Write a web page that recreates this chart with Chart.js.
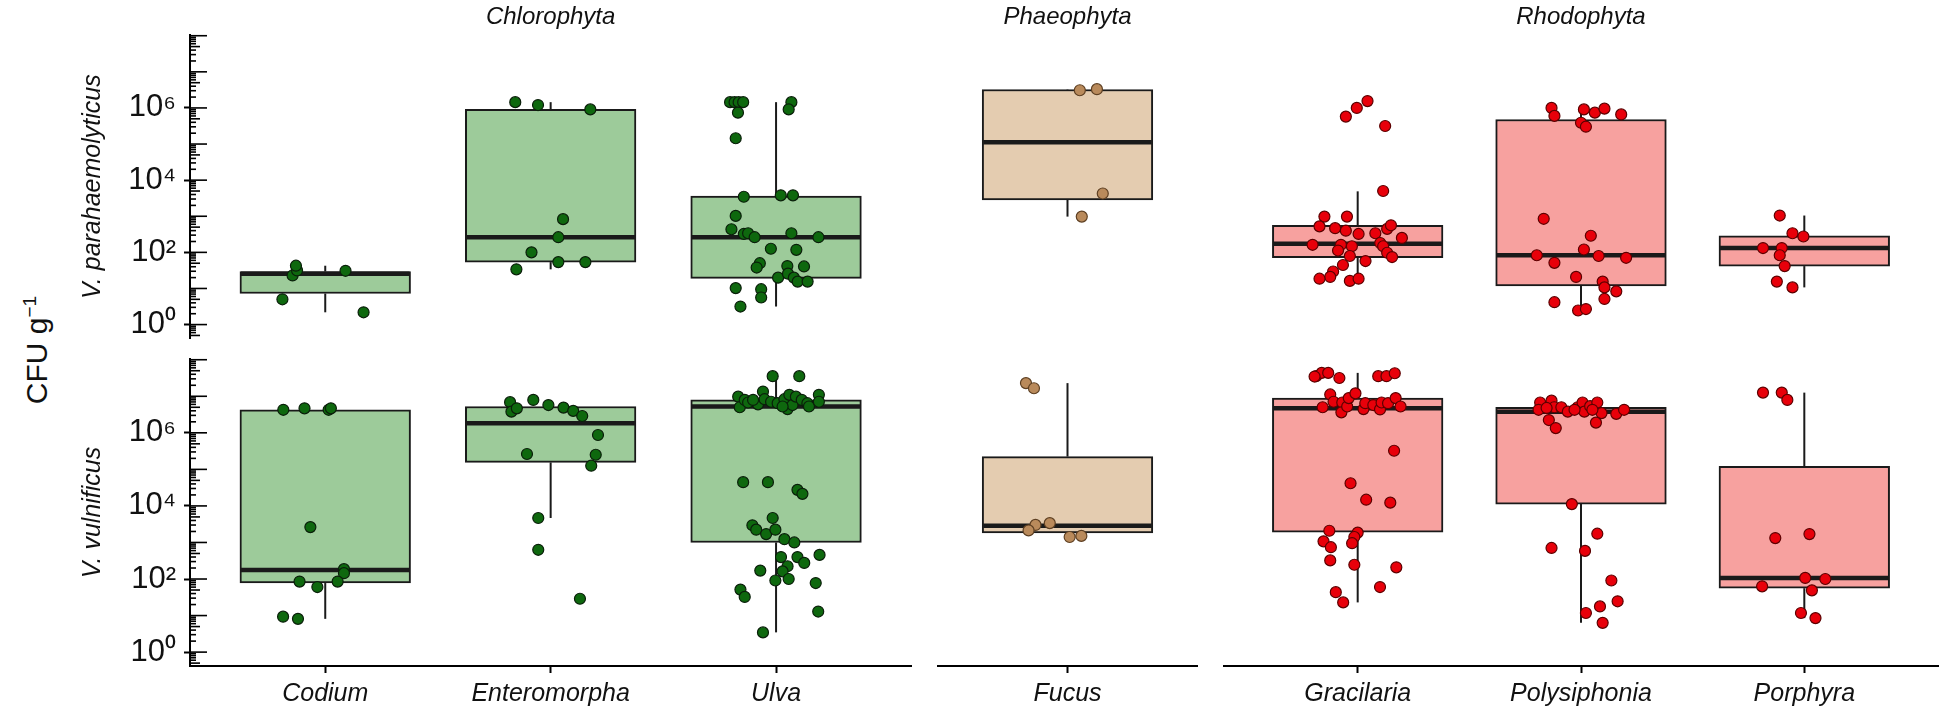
<!DOCTYPE html>
<html>
<head>
<meta charset="utf-8">
<title>Vibrio counts on seaweeds</title>
<script src="https://cdn.jsdelivr.net/npm/chart.js@4.4.1/dist/chart.umd.min.js"></script>
<style>
  html, body { margin: 0; padding: 0; background: #fff; }
  #page { position: relative; width: 1949px; height: 721px; overflow: hidden; }
  #page canvas { position: absolute; }
  #yTitle {
    position: absolute; left: 36px; top: 350px;
    transform: translate(-50%, -50%) rotate(-90deg);
    font: 30px "Liberation Sans", Arial, sans-serif; color: #111; white-space: nowrap;
  }
  #yTitle sup { font-size: 19px; }
</style>
</head>
<body>
<div id="page"><div id="yTitle">CFU g<sup>−1</sup></div></div>
<script>
// values are log10 CFU g-1
const species = ["V. parahaemolyticus", "V. vulnificus"];
const divisions = ["Chlorophyta", "Phaeophyta", "Rhodophyta"];
const genera = ["Codium", "Enteromorpha", "Ulva", "Fucus", "Gracilaria", "Polysiphonia", "Porphyra"];
const generaDivision = [0, 0, 0, 1, 2, 2, 2];

const yTickValues = [1, 1e2, 1e4, 1e6];
const yTickLabels = ["10⁰", "10²", "10⁴", "10⁶"];
const yRangeLog10 = [-0.38, 8.02];

// box statistics, one value per genus
const vpLow    = [0.34, 1.53, 0.50, 2.99, 1.21, 0.39, 1.03];
const vpQ1     = [0.86, 1.73, 1.28, 3.45, 1.85, 1.07, 1.62];
const vpMedian = [1.41, 2.42, 2.42, 5.05, 2.24, 1.92, 2.12];
const vpQ3     = [1.47, 5.96, 3.56, 6.51, 2.75, 5.68, 2.46];
const vpHigh   = [1.63, 6.16, 6.16, 6.52, 3.69, 6.00, 3.02];

const vvLow    = [0.91, 3.67, 0.54, 3.15, 1.36, 0.80, 0.93];
const vvQ1     = [1.89, 5.19, 3.00, 3.26, 3.28, 4.05, 1.75];
const vvMedian = [2.25, 6.26, 6.72, 3.46, 6.67, 6.58, 2.03];
const vvQ3     = [6.63, 6.72, 6.90, 5.35, 6.95, 6.70, 5.08];
const vvHigh   = [6.67, 6.90, 7.55, 7.36, 7.64, 6.88, 7.10];

// samples: [jitter offset in genus widths, log10 CFU g-1]
const vpCodium = [[-0.19,0.70],[-0.145,1.36],[-0.125,1.50],[-0.13,1.63],[0.09,1.49],[0.17,0.34]];
const vpEnteromorpha = [[-0.157,6.16],[-0.056,6.08],[0.176,5.96],[0.055,2.92],[0.034,2.42],[-0.085,2.00],
  [0.034,1.73],[0.154,1.73],[-0.152,1.53]];
const vpUlva = [[-0.204,6.16],[-0.184,6.16],[-0.166,6.16],[-0.146,6.16],[-0.169,5.87],[0.068,6.16],[0.056,5.96],
  [-0.179,5.16],[-0.143,3.54],[0.021,3.58],[0.075,3.58],[-0.179,3.01],[-0.198,2.64],[-0.143,2.51],[-0.124,2.53],
  [-0.095,2.42],[0.068,2.53],[0.188,2.42],[-0.023,2.10],[0.090,2.07],[-0.072,1.70],[-0.086,1.58],[0.050,1.62],
  [0.124,1.61],[0.009,1.30],[0.053,1.41],[0.079,1.30],[0.096,1.19],[0.140,1.19],[-0.179,1.01],[-0.066,0.98],
  [-0.066,0.75],[-0.158,0.50]];
const vpFucus = [[0.057,6.49],[0.136,6.52],[0.163,3.63],[0.066,2.99]];
const vpGracilaria = [[-0.053,5.76],[-0.004,6.00],[0.044,6.19],[0.123,5.50],[0.114,3.70],[-0.149,2.99],
  [-0.048,2.99],[-0.171,2.72],[-0.101,2.67],[-0.053,2.60],[0.004,2.51],[0.079,2.53],[0.132,2.65],[0.149,2.75],
  [0.198,2.40],[-0.202,2.21],[-0.075,2.21],[-0.026,2.17],[0.101,2.26],[0.114,2.17],[-0.088,2.05],[-0.035,1.90],
  [0.132,1.99],[0.154,1.87],[0.035,1.76],[-0.066,1.65],[-0.110,1.47],[-0.123,1.32],[-0.171,1.27],[-0.035,1.21],
  [0.004,1.27]];
const vpPolysiphonia = [[-0.132,6.00],[-0.119,5.78],[0.013,5.96],[0.062,5.87],[0.105,5.98],[0.180,5.82],
  [0.000,5.59],[0.022,5.48],[-0.167,2.93],[0.044,2.46],[0.013,2.08],[-0.198,1.92],[0.079,1.90],[0.202,1.85],
  [-0.119,1.71],[-0.022,1.32],[0.097,1.19],[0.105,1.03],[0.158,0.92],[0.105,0.71],[-0.119,0.62],[-0.013,0.39],
  [0.022,0.43]];
const vpPorphyra = [[-0.110,3.02],[-0.053,2.53],[-0.004,2.44],[-0.185,2.12],[-0.101,2.12],[-0.110,1.92],
  [-0.088,1.62],[-0.123,1.19],[-0.053,1.03]];

const vvCodium = [[-0.186,6.63],[-0.092,6.67],[0.015,6.63],[0.025,6.67],[-0.066,3.42],[0.083,2.27],[0.083,2.16],
  [-0.114,1.93],[-0.035,1.78],[0.055,1.93],[-0.187,0.97],[-0.121,0.91]];
const vvEnteromorpha = [[-0.18,6.84],[-0.174,6.58],[-0.15,6.67],[-0.077,6.90],[-0.01,6.76],[0.057,6.69],
  [0.10,6.60],[0.14,6.46],[0.21,5.94],[0.20,5.40],[0.18,5.10],[-0.105,5.42],[-0.055,3.67],[-0.055,2.80],[0.13,1.46]];
const vvUlva = [[-0.015,7.55],[0.103,7.55],[-0.168,6.99],[-0.161,6.70],[-0.139,6.90],[-0.124,6.83],[-0.08,6.78],
  [-0.058,7.13],[-0.051,6.92],[-0.022,6.85],[0.007,6.81],[0.037,6.92],[0.051,6.65],[0.059,7.04],[0.073,6.76],
  [0.088,6.99],[0.114,6.90],[0.139,6.81],[0.146,6.72],[0.19,7.04],[0.19,6.85],[-0.102,6.90],[0.029,6.72],
  [-0.146,4.65],[-0.036,4.65],[0.095,4.44],[0.117,4.33],[-0.015,3.67],[-0.105,3.47],[-0.088,3.35],[-0.044,3.23],
  [-0.003,3.35],[0.037,3.09],[0.081,3.00],[0.022,2.60],[0.095,2.60],[0.193,2.66],[0.125,2.44],[0.051,2.35],
  [0.029,2.21],[-0.07,2.23],[-0.003,1.96],[0.056,2.00],[0.176,1.89],[-0.158,1.71],[-0.139,1.51],[0.187,1.11],
  [-0.058,0.54]];
const vvFucus = [[-0.192,7.36],[-0.155,7.22],[-0.148,3.48],[-0.082,3.53],[-0.18,3.33],[0.01,3.15],[0.064,3.18]];
const vvGracilaria = [[-0.186,7.55],[-0.161,7.64],[-0.132,7.64],[-0.193,7.54],[-0.082,7.50],[0.092,7.55],
  [0.129,7.55],[0.166,7.63],[-0.123,7.05],[-0.108,6.85],[-0.157,6.70],[-0.069,6.83],[-0.073,6.56],[-0.047,6.72],
  [-0.04,6.95],[-0.01,7.08],[0.026,6.65],[0.034,6.81],[0.07,6.76],[0.1,6.64],[0.107,6.83],[0.136,6.81],
  [0.17,6.95],[0.192,6.72],[0.163,5.51],[-0.032,4.62],[0.038,4.17],[0.146,4.09],[-0.127,3.32],[0.0,3.27],
  [-0.015,3.15],[-0.153,3.03],[-0.12,2.87],[-0.025,2.98],[-0.123,2.51],[-0.015,2.39],[0.173,2.32],[0.1,1.78],
  [-0.098,1.64],[-0.065,1.36]];
const vvPolysiphonia = [[-0.183,6.83],[-0.132,6.88],[-0.19,6.63],[-0.12,6.70],[-0.088,6.70],[-0.059,6.58],
  [-0.015,6.70],[0.007,6.83],[0.015,6.58],[0.041,6.73],[0.073,6.83],[0.092,6.54],[0.158,6.52],[0.193,6.63],
  [-0.144,6.35],[-0.113,6.13],[0.067,6.28],[-0.154,6.68],[-0.029,6.63],[0.051,6.63],[-0.041,4.05],[0.073,3.24],
  [-0.132,2.85],[0.018,2.77],[0.136,1.96],[0.164,1.39],[0.085,1.25],[0.022,1.07],[0.097,0.80]];
const vvPorphyra = [[-0.185,7.10],[-0.101,7.10],[-0.076,6.90],[-0.13,3.12],[0.023,3.23],[0.004,2.03],
  [0.094,2.00],[-0.189,1.80],[0.034,1.69],[-0.015,1.07],[0.05,0.93]];

const rows = [
  { low: vpLow, q1: vpQ1, median: vpMedian, q3: vpQ3, high: vpHigh,
    points: [vpCodium, vpEnteromorpha, vpUlva, vpFucus, vpGracilaria, vpPolysiphonia, vpPorphyra] },
  { low: vvLow, q1: vvQ1, median: vvMedian, q3: vvQ3, high: vvHigh,
    points: [vvCodium, vvEnteromorpha, vvUlva, vvFucus, vvGracilaria, vvPolysiphonia, vvPorphyra] }
];

const boxFill = ["#9dcb9a", "#e4ccb0", "#f7a19f"];
const pointFill = ["#0e680e", "#b98a5b", "#e8000a"];
const pointEdge = ["#0a1f0a", "#5e4023", "#5c0000"];

// layout, in page pixels
const UNIT = 227.5;            // width of one genus slot
const EXPAND = 0.6;            // empty space either side of a panel, in slots
const yAxisWidth = 190;
const panelLeft = [190, 931, 1217];
const rowTop = [0, 345];
const rowHeight = [345, 376];
const rowPadding = [{ top: 35, bottom: 3, left: 0, right: 0 }, { top: 14, bottom: 0, left: 0, right: 0 }];
const xAxisHeight = 55;

Chart.defaults.font.family = '"Liberation Sans", Arial, sans-serif';
Chart.defaults.color = "#111";

const lg = v => Math.pow(10, v);

// inner log ticks on the left axis, long at decades, medium at 5
const logTicks = {
  id: "logTicks",
  afterDraw(chart) {
    const y = chart.scales.y;
    if (!y.options.display) return;
    const ctx = chart.ctx;
    const x0 = chart.chartArea.left;
    ctx.save();
    ctx.strokeStyle = "#000";
    ctx.lineWidth = 1.6;
    for (let e = -1; e <= 8; e++) {
      for (let m = 1; m <= 9; m++) {
        const v = m * Math.pow(10, e);
        if (v < y.min || v > y.max) continue;
        const py = y.getPixelForValue(v);
        const len = m === 1 ? 17 : m === 5 ? 10 : 6;
        ctx.beginPath();
        ctx.moveTo(x0, py);
        ctx.lineTo(x0 + len, py);
        ctx.stroke();
      }
    }
    ctx.restore();
  }
};

// whiskers and median on top of the box bars
const boxParts = {
  id: "boxParts",
  afterDatasetDraw(chart, args) {
    const ds = chart.data.datasets[args.index];
    if (ds.type !== "bar") return;
    const { ctx, scales: { x, y } } = chart;
    const half = ds.barThickness / 2;
    const seg = (x1, y1, x2, y2) => {
      ctx.beginPath();
      ctx.moveTo(x1, y1);
      ctx.lineTo(x2, y2);
      ctx.stroke();
    };
    ctx.save();
    ctx.strokeStyle = "#1a1a1a";
    ds.stats.forEach(s => {
      const cx = x.getPixelForValue(s.x);
      ctx.lineWidth = 2;
      seg(cx, y.getPixelForValue(s.low), cx, y.getPixelForValue(s.q1));
      seg(cx, y.getPixelForValue(s.q3), cx, y.getPixelForValue(s.high));
      ctx.lineWidth = 4.5;
      const my = y.getPixelForValue(s.median);
      seg(cx - half + 1, my, cx + half - 1, my);
    });
    ctx.restore();
  }
};

// division name above each top panel
const stripLabel = {
  id: "strip",
  afterDraw(chart, args, opts) {
    if (!opts.text) return;
    const { ctx, chartArea } = chart;
    ctx.save();
    ctx.font = 'italic 24px "Liberation Sans", Arial, sans-serif';
    ctx.fillStyle = "#111";
    ctx.textAlign = "center";
    ctx.textBaseline = "middle";
    ctx.fillText(opts.text, (chartArea.left + chartArea.right) / 2, 17);
    ctx.restore();
  }
};

function makePanel(r, d) {
  const row = rows[r];
  const idx = genera.map((g, i) => i).filter(i => generaDivision[i] === d);
  const n = idx.length;
  const isLeft = d === 0;
  const plotWidth = UNIT * (n - 1 + 2 * EXPAND);
  const width = Math.round(plotWidth + (isLeft ? yAxisWidth : 0));
  const left = isLeft ? panelLeft[0] - yAxisWidth : panelLeft[d];

  const canvas = document.createElement("canvas");
  canvas.width = width;
  canvas.height = rowHeight[r];
  canvas.style.left = left + "px";
  canvas.style.top = rowTop[r] + "px";
  canvas.style.width = width + "px";
  canvas.style.height = rowHeight[r] + "px";
  document.getElementById("page").appendChild(canvas);

  const boxData = idx.map((g, i) => ({ x: i, y: [lg(row.q1[g]), lg(row.q3[g])] }));
  const stats = idx.map((g, i) => ({
    x: i, low: lg(row.low[g]), q1: lg(row.q1[g]), median: lg(row.median[g]),
    q3: lg(row.q3[g]), high: lg(row.high[g])
  }));
  const pointData = idx.flatMap((g, i) => row.points[g].map(p => ({ x: i + p[0], y: lg(p[1]) })));

  new Chart(canvas, {
    type: "scatter",
    data: {
      datasets: [
        {
          type: "bar",
          data: boxData,
          stats: stats,
          order: 2,
          backgroundColor: boxFill[d],
          borderColor: "#1a1a1a",
          borderWidth: 2,
          borderSkipped: false,
          barThickness: 0.75 * UNIT
        },
        {
          type: "scatter",
          data: pointData,
          order: 1,
          pointRadius: 5.5,
          pointBorderWidth: 1.2,
          pointBackgroundColor: pointFill[d],
          pointBorderColor: pointEdge[d]
        }
      ]
    },
    options: {
      responsive: false,
      animation: false,
      events: [],
      layout: { padding: rowPadding[r] },
      plugins: {
        legend: { display: false },
        tooltip: { enabled: false },
        strip: { text: r === 0 ? divisions[d] : "" }
      },
      scales: {
        x: {
          type: "linear",
          min: -EXPAND,
          max: n - 1 + EXPAND,
          offset: false,
          display: r === 1,
          afterBuildTicks: s => { s.ticks = idx.map((g, i) => ({ value: i })); },
          afterFit: s => {
            if (r === 1) s.height = xAxisHeight;
            s.paddingLeft = 0;
            s.paddingRight = 0;
          },
          ticks: {
            autoSkip: false,
            maxRotation: 0,
            padding: 6,
            color: "#111",
            font: { size: 25, style: "italic" },
            callback: v => genera[idx[v]]
          },
          grid: {
            display: true, offset: false, drawOnChartArea: false, drawTicks: true,
            tickLength: 7, tickColor: "#000", tickWidth: 2
          },
          border: { display: true, color: "#000", width: 2 }
        },
        y: {
          type: "logarithmic",
          min: lg(yRangeLog10[0]),
          max: lg(yRangeLog10[1]),
          offset: false,
          display: isLeft,
          afterBuildTicks: s => { s.ticks = yTickValues.map(v => ({ value: v })); },
          afterFit: s => {
            if (isLeft) s.width = yAxisWidth;
            s.paddingTop = 0;
            s.paddingBottom = 0;
          },
          ticks: {
            padding: 8,
            color: "#111",
            font: { size: 31 },
            callback: v => yTickLabels[yTickValues.indexOf(v)]
          },
          grid: {
            display: true, offset: false, drawOnChartArea: false, drawTicks: true,
            tickLength: 6, tickColor: "#000", tickWidth: 2
          },
          border: { display: true, color: "#000", width: 2 },
          title: {
            display: true,
            text: species[r],
            color: "#111",
            font: { size: 25, style: "italic" },
            padding: { top: 78, bottom: 0 }
          }
        }
      }
    },
    plugins: [boxParts, logTicks, stripLabel]
  });
}

[0, 1].forEach(r => [0, 1, 2].forEach(d => makePanel(r, d)));
</script>
</body>
</html>
